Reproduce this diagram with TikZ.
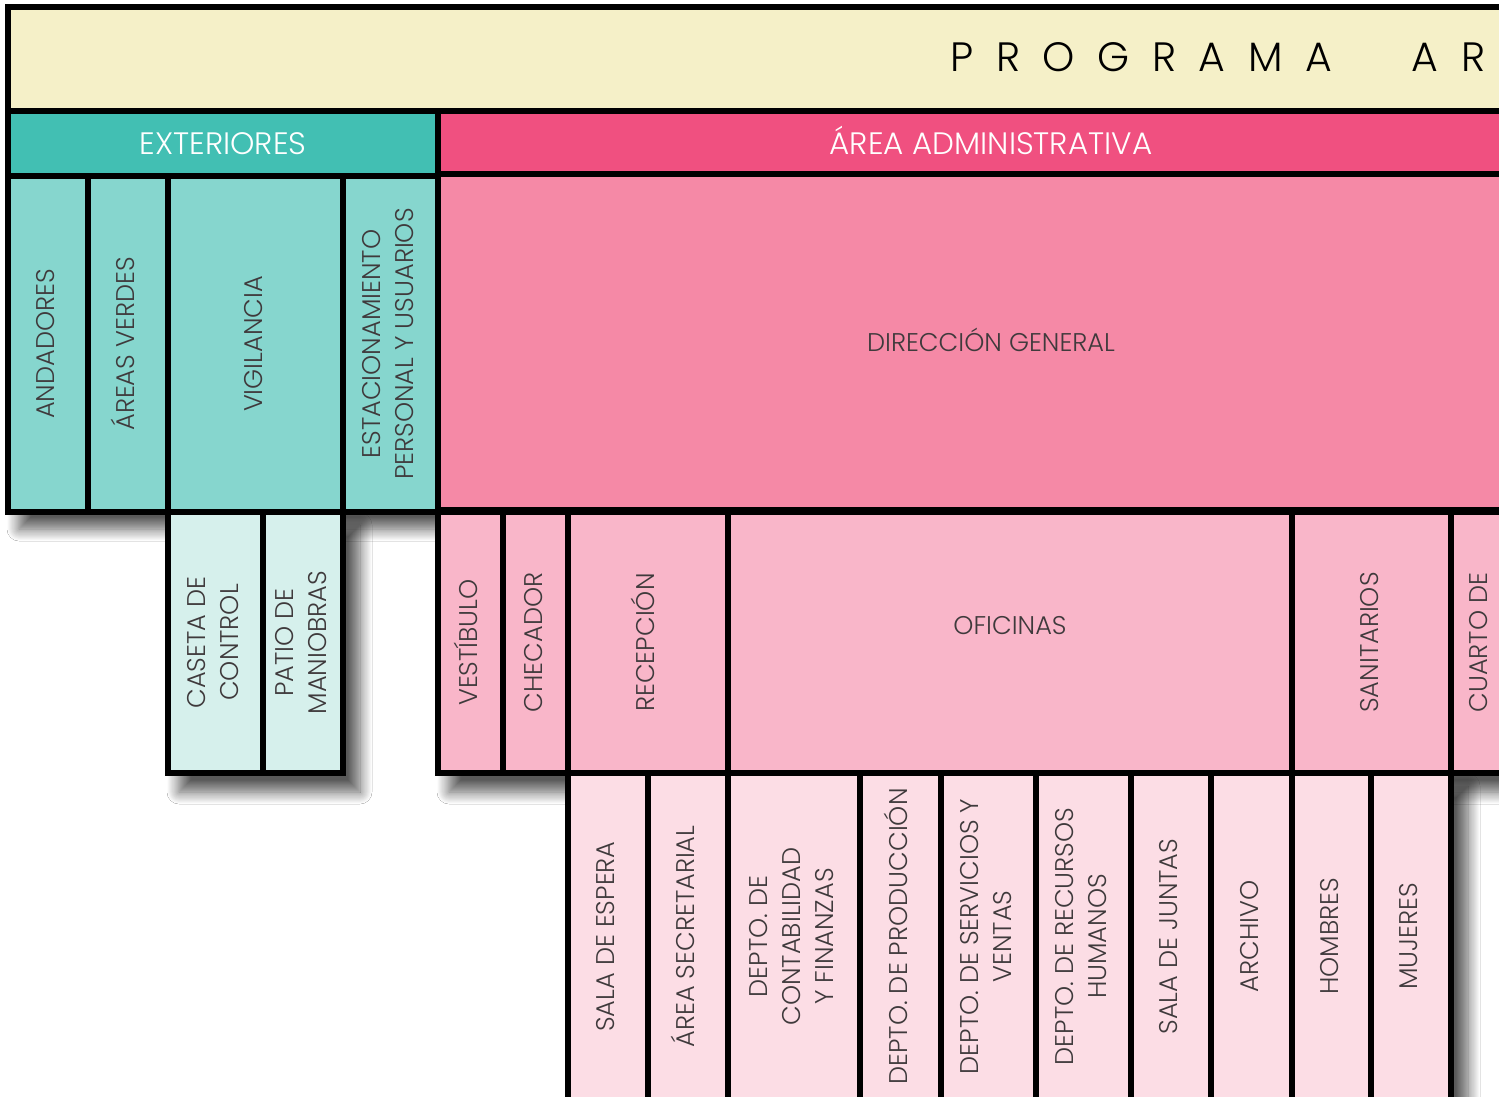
\documentclass[tikz,border=0pt]{standalone}
\usepackage{fontspec}
\usepackage{graphicx}
\setmainfont{Poppins Light}
\newfontfamily\titlefont[LetterSpace=55]{Poppins Light}
\usetikzlibrary{shadows.blur}

\definecolor{crema}{HTML}{F5F0C8}
\definecolor{tealhead}{HTML}{42BFB3}
\definecolor{tealmid}{HTML}{86D6CE}
\definecolor{teallight}{HTML}{D6F0EC}
\definecolor{rosahead}{HTML}{F05080}
\definecolor{rosamid}{HTML}{F589A6}
\definecolor{rosa}{HTML}{F9B6C9}
\definecolor{rosalight}{HTML}{FCDDE5}
\definecolor{texto}{HTML}{3F3A3C}

\pgfdeclarelayer{fondo}
\pgfsetlayers{fondo,main}

\newcommand{\vtxt}[1]{\rotatebox{90}{\begin{tabular}{@{}c@{}}#1\end{tabular}}}

\begin{document}
\begin{tikzpicture}[x=0.5pt, y=-0.5pt,
  caja/.style={draw=black, line width=3pt, inner sep=0pt, text=texto,
    font=\fontsize{12.8}{16.5}\selectfont},
  cabeza/.style={caja, text=white, minimum height=32.5pt,
    font=\fontsize{15.5}{18}\selectfont, text height=11pt, text depth=0pt},
  fila3/.style={caja, minimum height=168pt},
  fila4/.style={caja, minimum height=130.5pt},
  fila5/.style={caja, fill=rosalight, minimum height=163.5pt},
  sombra/.style={blur shadow={shadow xshift=7pt, shadow yshift=-8pt,
    shadow blur radius=6pt, shadow blur steps=12, shadow opacity=65}}]
\useasboundingbox (0,0) rectangle (1499,1097);
\clip (0,0) rectangle (1499,1097);

% titulo
\node (marco) [caja, fill=crema, minimum width=796pt, minimum height=52pt] at (804,59) {};
\node (titulo) [anchor=base west, inner sep=0pt, font=\titlefont\fontsize{20.5}{24}\selectfont] at (950,72) {PROGRAMA\hspace{40pt}AR};

% areas
\node (ext) [cabeza, fill=tealhead, minimum width=215pt] at (223,143.5) {EXTERIORES};
\node (adm) [cabeza, fill=rosahead, minimum width=553pt] at (991,143.5) {ÁREA ADMINISTRATIVA};

% fila 3
\node (andad) [fila3, fill=tealmid, minimum width=40pt] at (48,344) {\vtxt{ANDADORES}};
\node (verdes) [fila3, fill=tealmid, minimum width=40pt] at (128,344) {\vtxt{ÁREAS VERDES}};
\node (vigil) [fila3, fill=tealmid, minimum width=87.5pt] at (255.5,344) {\vtxt{VIGILANCIA}};
\node (estac) [fila3, fill=tealmid, minimum width=47.5pt] at (390.5,344) {\vtxt{ESTACIONAMIENTO\\PERSONAL Y USUARIOS}};
\node (direc) [fila3, fill=rosamid, minimum width=553pt, text height=9pt, text depth=0pt] at (991,342) {DIRECCIÓN GENERAL};

% fila 4
\node (caseta) [fila4, fill=teallight, minimum width=47.5pt] at (215.5,642.5) {\vtxt{CASETA DE\\CONTROL}};
\node (patio) [fila4, fill=teallight, minimum width=40pt] at (303,642.5) {\vtxt{PATIO DE\\MANIOBRAS}};
\node (vest) [fila4, fill=rosa, minimum width=32.5pt] at (470.5,642.5) {\vtxt{VESTÍBULO}};
\node (checa) [fila4, fill=rosa, minimum width=32.5pt] at (535.5,642.5) {\vtxt{CHECADOR}};
\node (recep) [fila4, fill=rosa, minimum width=80pt] at (648,642.5) {\vtxt{RECEPCIÓN}};
\node (ofic) [fila4, fill=rosa, minimum width=282pt,
  label={[text=texto, font=\fontsize{12.8}{16.5}\selectfont, yshift=8.5pt]center:OFICINAS}] at (1010,642.5) {};
\node (sanit) [fila4, fill=rosa, minimum width=79.5pt] at (1371.5,642.5) {\vtxt{SANITARIOS}};
\node (cuarto) [fila4, fill=rosa, minimum width=30pt] at (1481,642.5) {\vtxt{CUARTO DE}};

% fila 5
\node (sala) [fila5, minimum width=40pt] at (608,936.5) {\vtxt{SALA DE ESPERA}};
\node (secre) [fila5, minimum width=40pt] at (688,936.5) {\vtxt{ÁREA SECRETARIAL}};
\node (conta) [fila5, minimum width=66pt] at (794,936.5) {\vtxt{DEPTO. DE\\CONTABILIDAD\\Y FINANZAS}};
\node (produc) [fila5, minimum width=40.5pt] at (900.5,936.5) {\vtxt{DEPTO. DE PRODUCCIÓN}};
\node (servi) [fila5, minimum width=47.5pt] at (988.5,936.5) {\vtxt{DEPTO. DE SERVICIOS Y\\VENTAS}};
\node (recur) [fila5, minimum width=47.5pt] at (1083.5,936.5) {\vtxt{DEPTO. DE RECURSOS\\HUMANOS}};
\node (juntas) [fila5, minimum width=40pt] at (1171,936.5) {\vtxt{SALA DE JUNTAS}};
\node (archi) [fila5, minimum width=40.5pt] at (1251.5,936.5) {\vtxt{ARCHIVO}};
\node (hombr) [fila5, minimum width=39.5pt] at (1331.5,936.5) {\vtxt{HOMBRES}};
\node (mujer) [fila5, minimum width=40pt] at (1411,936.5) {\vtxt{MUJERES}};

% sombras
\begin{pgfonlayer}{fondo}
\fill[white] (0,0) rectangle (1499,1097);
\path[sombra] (andad.north west) rectangle (direc.south east);
\path[sombra] (caseta.north west) rectangle (patio.south east);
\path[sombra] (vest.north west) rectangle (cuarto.south east);
\path[sombra] (sala.north west) rectangle (mujer.south east);
\end{pgfonlayer}
\end{tikzpicture}
\end{document}
